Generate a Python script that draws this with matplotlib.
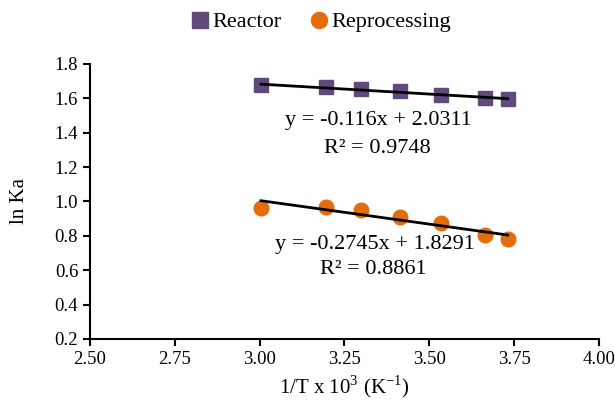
import matplotlib.pyplot as plt
import numpy as np

plt.rcParams['font.family'] = ['Liberation Serif', 'DejaVu Serif']
plt.rcParams['mathtext.fontset'] = 'custom'
plt.rcParams['mathtext.rm'] = 'Liberation Serif'

inv_t = [3.004, 3.196, 3.300, 3.414, 3.535, 3.664, 3.731]
reactor = [1.679, 1.664, 1.654, 1.640, 1.617, 1.605, 1.597]
reprocessing = [0.963, 0.969, 0.948, 0.909, 0.874, 0.807, 0.780]

# Excel trendline coefficients (slope, intercept, R^2)
fit_reactor = (-0.116, 2.0311, 0.9748)
fit_repro = (-0.2745, 1.8291, 0.8861)

purple = '#604A7B'
orange = '#E46C0A'

fig = plt.figure(figsize=(6.15, 4.04), dpi=100)
ax = fig.add_axes([0.1463, 0.1609, 0.8276, 0.6807])

ax.plot(inv_t, reactor, 's', color=purple, markersize=10, label='Reactor', zorder=2)
ax.plot(inv_t, reprocessing, 'o', color=orange, markersize=10.5, label='Reprocessing', zorder=2)

xs = np.array([min(inv_t), max(inv_t)])
ax.plot(xs, fit_reactor[0] * xs + fit_reactor[1], color='black', lw=2, zorder=3)
ax.plot(xs, fit_repro[0] * xs + fit_repro[1], color='black', lw=2, zorder=3)

ax.text(3.349, 1.47, 'y = -0.116x + 2.0311', ha='center', va='center', fontsize=16)
ax.text(3.346, 1.31, 'R² = 0.9748', ha='center', va='center', fontsize=16)
ax.text(3.34, 0.75, 'y = -0.2745x + 1.8291', ha='center', va='center', fontsize=16)
ax.text(3.335, 0.605, 'R² = 0.8861', ha='center', va='center', fontsize=16)

ax.set_xlim(2.5, 4.0)
ax.set_ylim(0.2, 1.8)
ax.set_xticks(np.arange(2.5, 4.01, 0.25))
ax.set_yticks(np.arange(0.2, 1.81, 0.2))
ax.xaxis.set_major_formatter(plt.FormatStrFormatter('%.2f'))
ax.yaxis.set_major_formatter(plt.FormatStrFormatter('%.1f'))
ax.tick_params(labelsize=13.5, width=1.5, length=5, direction='out')
for s in ['top', 'right']:
    ax.spines[s].set_visible(False)
for s in ['left', 'bottom']:
    ax.spines[s].set_linewidth(1.5)

ax.set_xlabel('1/T x 10$^{3}$ (K$^{-1}$)', fontsize=15)
ax.set_ylabel('ln Ka', fontsize=15)
ax.xaxis.set_label_coords(0.5, -0.124)
ax.yaxis.set_label_coords(-0.12, 0.5)

fig.legend(loc='center', bbox_to_anchor=(0.52, 0.945), ncol=2, frameon=False,
           fontsize=16, handletextpad=0.05, columnspacing=1.2, handlelength=1,
           markerscale=1.1)

fig.savefig('out.png', dpi=100)
